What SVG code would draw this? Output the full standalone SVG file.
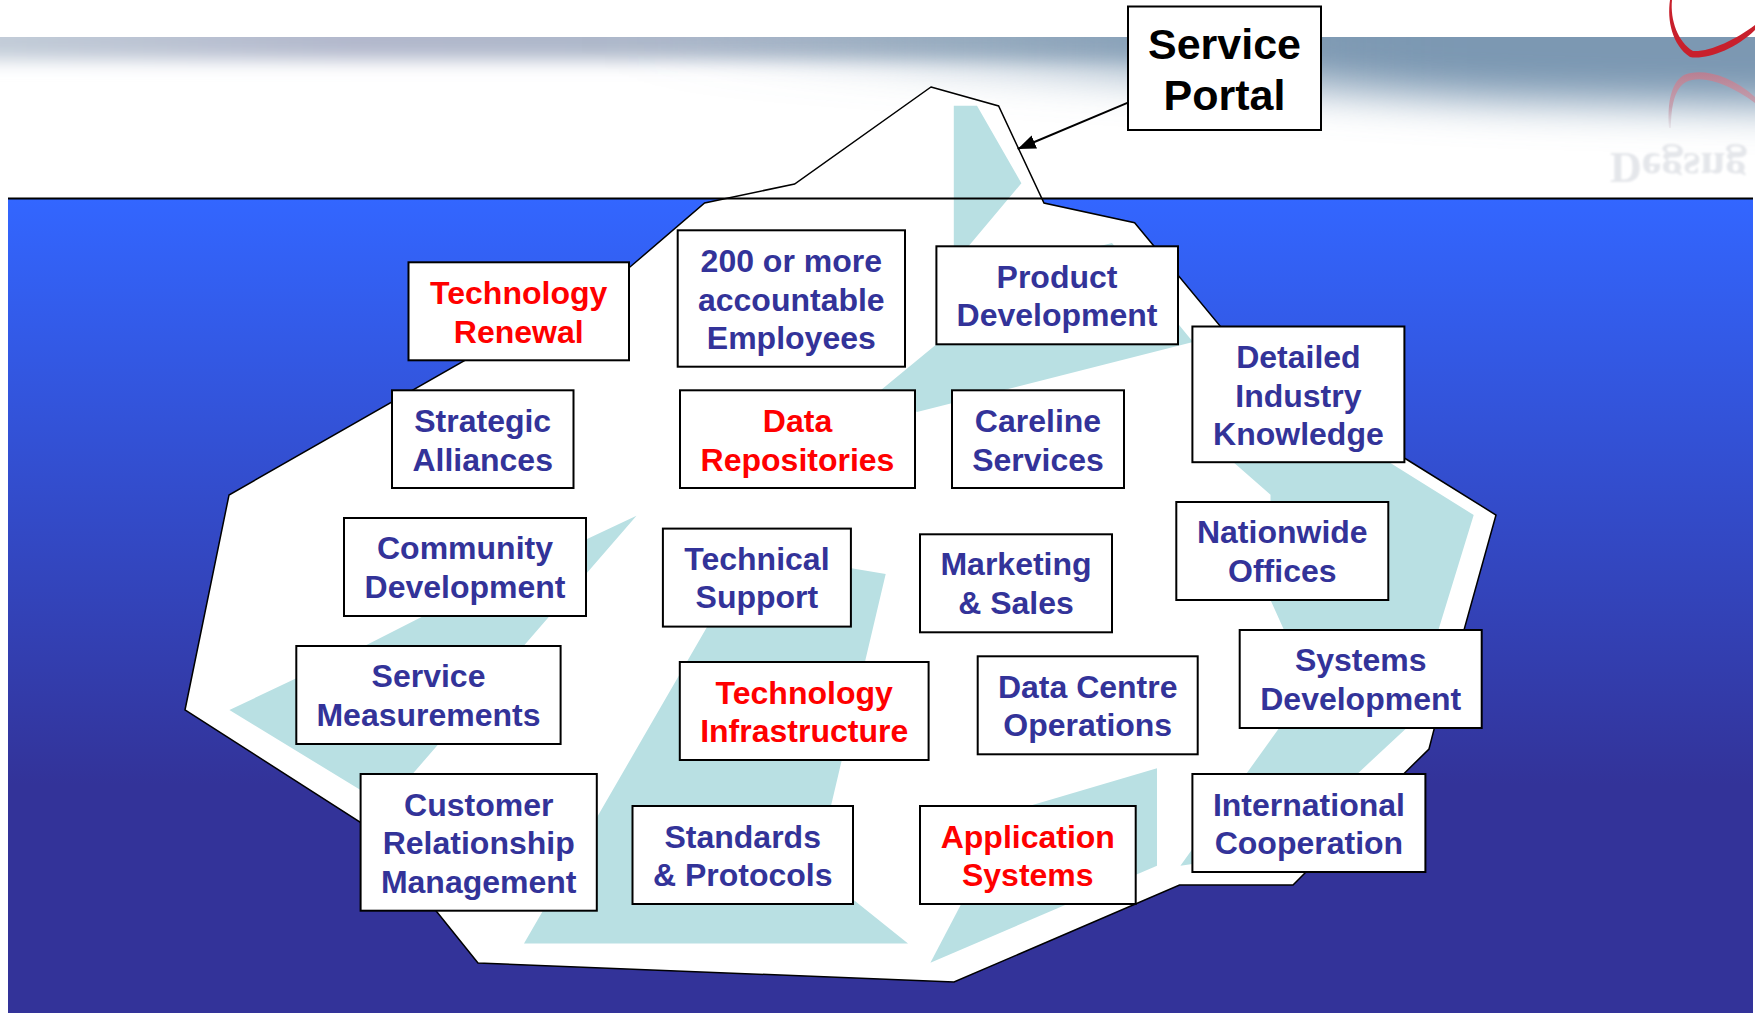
<svg xmlns="http://www.w3.org/2000/svg" width="1755" height="1013" viewBox="0 0 1755 1013">
<defs>
<linearGradient id="sea" gradientUnits="userSpaceOnUse" x1="0" y1="199" x2="0" y2="1013"><stop offset="0" stop-color="#3366ff"/><stop offset="0.72" stop-color="#333399"/><stop offset="1" stop-color="#333399"/></linearGradient>
<linearGradient id="band" gradientUnits="userSpaceOnUse" x1="0" y1="0" x2="1755" y2="0"><stop offset="0" stop-color="#c2ccd8"/><stop offset="0.2" stop-color="#b2b8cc"/><stop offset="0.55" stop-color="#a8b8c8"/><stop offset="0.72" stop-color="#9fb2c5"/><stop offset="1" stop-color="#a0b4c6"/></linearGradient>
<linearGradient id="bandR" gradientUnits="userSpaceOnUse" x1="650" y1="0" x2="1400" y2="0"><stop offset="0" stop-color="#7c98b2" stop-opacity="0"/><stop offset="1" stop-color="#7c98b2"/></linearGradient>
<linearGradient id="refl" gradientUnits="userSpaceOnUse" x1="0" y1="72" x2="0" y2="130"><stop offset="0" stop-color="#b87f92"/><stop offset="0.6" stop-color="#c4a3b2"/><stop offset="1" stop-color="#d4c8d0" stop-opacity="0.2"/></linearGradient>
<filter id="soft" x="-5%" y="-40%" width="110%" height="180%"><feGaussianBlur stdDeviation="12 9"/></filter>
<filter id="softR" x="-10%" y="-60%" width="120%" height="220%"><feGaussianBlur stdDeviation="50 20"/></filter>
<filter id="hazy" x="-5%" y="-20%" width="110%" height="140%"><feGaussianBlur stdDeviation="1"/></filter>
<clipPath id="bandClip"><rect x="0" y="37" width="1755" height="160"/></clipPath>
<marker id="ah" markerUnits="userSpaceOnUse" markerWidth="20" markerHeight="16" refX="18" refY="7" orient="auto"><path d="M0,0 L18,7 L0,14 Z" fill="#000"/></marker>
<style>
.box{fill:#fff;stroke:#000;stroke-width:2}
text{font-family:"Liberation Sans",Arial,sans-serif;font-weight:700;text-anchor:middle}
.n text{font-size:32px;fill:#333399}
.r text{font-size:32px;fill:#ff0000}
.teal{fill:#b9e0e3}
</style>
</defs>
<rect width="1755" height="1013" fill="#fff"/>
<g clip-path="url(#bandClip)">
<rect x="-60" y="-20" width="1875" height="80" fill="url(#band)" filter="url(#soft)"/>
<path d="M600,-20 H1900 V110 L1500,100 L1150,80 L600,50 Z" fill="url(#bandR)" filter="url(#softR)"/>
</g>
<g id="logo">
<path d="M1670,0 C1667,20 1672,45 1690,57 C1705,60 1735,50 1755,30 L1755,25 C1735,40 1710,52 1693,51 C1678,42 1670,20 1672,0 Z" fill="#c8202c"/>
<path d="M1669,128 C1667,100 1672,82 1684,75 C1700,68 1730,74 1755,97 L1755,103 C1730,84 1702,74 1686,82 C1675,88 1671,105 1671,128 Z" fill="url(#refl)"/>
<text x="1610" y="-153" transform="scale(1,-1)" textLength="137" lengthAdjust="spacingAndGlyphs" filter="url(#hazy)" style="font-family:'Liberation Serif',serif;font-size:44px;fill:#e4e6ea;text-anchor:start">Degsng</text>
</g>
<rect x="8" y="198" width="1745" height="815" fill="url(#sea)"/>
<g id="iceberg">
<polygon points="931,87 998.6,106 1044,203 1134.6,222.7 1225,332 1406,459 1496,515 1464,630 1434,729.5 1429,749 1403.6,774 1293,885 1179.5,885 954,982 478,963 437,912 360,822 185,710 229,495 560,306 630,267 704.6,203 794.6,184" fill="#fff" stroke="#000" stroke-width="1.5"/>
<polygon class="teal" points="953.8,105.7 977,105.7 1021.4,183.3 968.7,246 1100,246 1112,243 1193,342 917,412 881,390 953.8,330"/>
<polygon class="teal" points="1234,462.7 1270.5,494.8 1270.5,600 1284,630 1300,700 1278.6,728.7 1180.4,865.8 1192.4,864 1356.7,774.4 1405.8,728.7 1438.4,630 1473.7,515 1390,462.7"/>
<polygon class="teal" points="1157,768.2 1157,865.8 930.4,962.7 1000,830 1030.8,805.5"/>
<polygon class="teal" points="885.7,574 850,568 760,560 707,627 524,943.5 908,943.5 850,897 830,810"/>
<polygon class="teal" points="636.5,515.7 390,800 359.7,789.5 229.4,710 364,646.3 422,616.7 586,539.5"/>
</g>
<line x1="8" y1="198.5" x2="1753" y2="198.5" stroke="#000" stroke-width="1.8"/>
<g id="connectors"><line x1="1128" y1="102.7" x2="1017.7" y2="149" stroke="#000" stroke-width="2" marker-end="url(#ah)"/></g>
<g id="service-portal"><rect class="box" x="1128" y="6.5" width="193" height="123.5"/><text x="1224.5" y="59" style="font-size:43px" fill="#000">Service</text><text x="1224.5" y="110" style="font-size:43px" fill="#000">Portal</text></g>
<g id="technology-renewal" class="r"><rect class="box" x="408.5" y="262.3" width="220.5" height="98"/><text x="518.7" y="303.5">Technology</text><text x="518.7" y="342.5">Renewal</text></g>
<g id="employees" class="n"><rect class="box" x="677.7" y="230.3" width="227.3" height="136.4"/><text x="791.3" y="272">200 or more</text><text x="791.3" y="311">accountable</text><text x="791.3" y="348.6">Employees</text></g>
<g id="product-development" class="n"><rect class="box" x="936.4" y="246.3" width="241.6" height="98"/><text x="1057" y="287.5">Product</text><text x="1057" y="326">Development</text></g>
<g id="detailed-knowledge" class="n"><rect class="box" x="1192.4" y="326.5" width="212" height="135.7"/><text x="1298.4" y="367.5">Detailed</text><text x="1298.4" y="406.6">Industry</text><text x="1298.4" y="444.6">Knowledge</text></g>
<g id="strategic-alliances" class="n"><rect class="box" x="392" y="390.3" width="181.5" height="97.7"/><text x="482.7" y="431.8">Strategic</text><text x="482.7" y="470.5">Alliances</text></g>
<g id="data-repositories" class="r"><rect class="box" x="680" y="390.3" width="235" height="97.7"/><text x="797.5" y="431.8">Data</text><text x="797.5" y="470.5">Repositories</text></g>
<g id="careline-services" class="n"><rect class="box" x="952" y="390.3" width="172" height="97.7"/><text x="1038" y="431.8">Careline</text><text x="1038" y="470.5">Services</text></g>
<g id="nationwide-offices" class="n"><rect class="box" x="1176.3" y="502" width="212" height="98"/><text x="1282.3" y="543.4">Nationwide</text><text x="1282.3" y="582">Offices</text></g>
<g id="community-development" class="n"><rect class="box" x="344" y="518" width="242" height="98"/><text x="465" y="559">Community</text><text x="465" y="598">Development</text></g>
<g id="technical-support" class="n"><rect class="box" x="662.9" y="528.6" width="188" height="98"/><text x="756.9" y="570">Technical</text><text x="756.9" y="608">Support</text></g>
<g id="marketing-sales" class="n"><rect class="box" x="920" y="534.3" width="192" height="98"/><text x="1016" y="575">Marketing</text><text x="1016" y="614.3">&amp; Sales</text></g>
<g id="systems-development" class="n"><rect class="box" x="1239.7" y="630" width="242" height="98"/><text x="1360.7" y="671">Systems</text><text x="1360.7" y="710">Development</text></g>
<g id="service-measurements" class="n"><rect class="box" x="296.3" y="646" width="264.3" height="98"/><text x="428.5" y="687">Service</text><text x="428.5" y="726">Measurements</text></g>
<g id="data-centre-operations" class="n"><rect class="box" x="977.7" y="656.3" width="220" height="98"/><text x="1087.7" y="698">Data Centre</text><text x="1087.7" y="736">Operations</text></g>
<g id="technology-infrastructure" class="r"><rect class="box" x="679.8" y="662" width="248.8" height="98"/><text x="804.2" y="703.5">Technology</text><text x="804.2" y="742">Infrastructure</text></g>
<g id="customer-relationship" class="n"><rect class="box" x="360.6" y="774" width="236.2" height="136.7"/><text x="478.7" y="815.5">Customer</text><text x="478.7" y="854">Relationship</text><text x="478.7" y="892.5">Management</text></g>
<g id="international-cooperation" class="n"><rect class="box" x="1192.4" y="774" width="233" height="98"/><text x="1308.9" y="815.5">International</text><text x="1308.9" y="854">Cooperation</text></g>
<g id="standards-protocols" class="n"><rect class="box" x="632.5" y="806" width="220.5" height="98"/><text x="742.7" y="847.5">Standards</text><text x="742.7" y="886">&amp; Protocols</text></g>
<g id="application-systems" class="r"><rect class="box" x="920" y="806" width="215.7" height="98"/><text x="1027.8" y="847.5">Application</text><text x="1027.8" y="886">Systems</text></g>
</svg>
